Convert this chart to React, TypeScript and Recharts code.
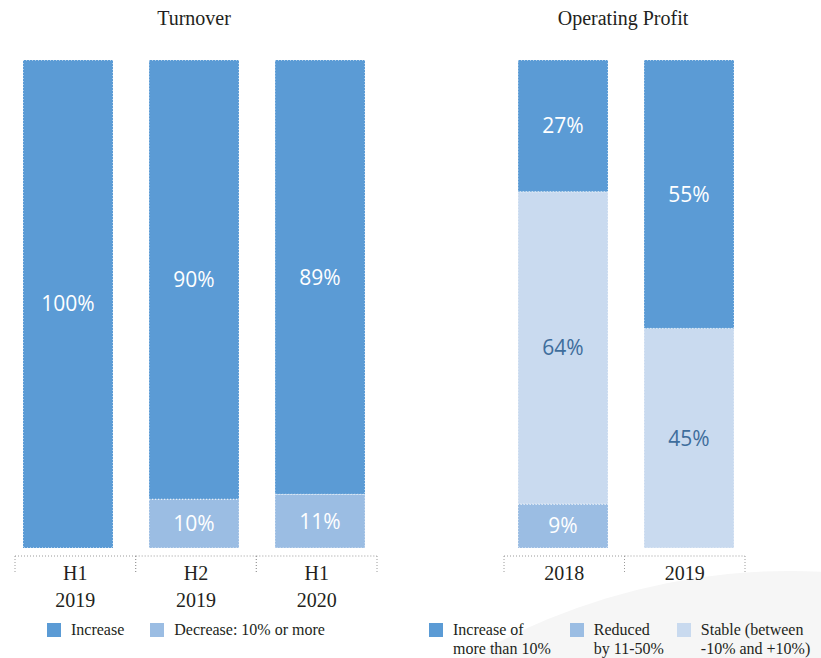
import React from 'react';
import { BarChart, Bar, XAxis, YAxis, LabelList } from 'recharts';

// categories and values
const turnoverCats = ['H1 2019', 'H2 2019', 'H1 2020'];
const turnoverIncrease = [100, 90, 89];
const turnoverDecrease = [0, 10, 11];

const profitCats = ['2018', '2019'];
const profitReduced = [9, 0];
const profitStable = [64, 45];
const profitIncrease = [27, 55];

const DARK = '#5b9bd5';
const MID = '#9bbde3';
const LIGHT = '#c9daef';
const INK = '#231f20';
const serif = '"Liberation Serif", "Times New Roman", serif';
const sans = '"Open Sans", "Noto Sans", sans-serif';

const turnoverSeries = [
  { key: 'decrease', name: 'Decrease: 10% or more', color: MID, label: '#ffffff' },
  { key: 'increase', name: 'Increase', color: DARK, label: '#ffffff' },
];
const profitSeries = [
  { key: 'reduced', name: 'Reduced\nby 11-50%', color: MID, label: '#ffffff' },
  { key: 'stable', name: 'Stable (between\n-10% and +10%)', color: LIGHT, label: '#3e6d9c' },
  { key: 'increase', name: 'Increase of\nmore than 10%', color: DARK, label: '#ffffff' },
];

const turnoverData = turnoverCats.map((cat, i) => ({
  cat,
  increase: turnoverIncrease[i],
  decrease: turnoverDecrease[i],
}));
const profitData = profitCats.map((cat, i) => ({
  cat,
  reduced: profitReduced[i],
  stable: profitStable[i],
  increase: profitIncrease[i],
}));

const H = 658;
const margin = (left: number, right: number) => ({ top: 60, right, left, bottom: 0 });

const AxisTick = (props: any) => {
  const { x, y, payload, band } = props;
  const lines = String(payload.value).split(' ');
  const dot = { stroke: '#9a9a9a', strokeWidth: 1, strokeDasharray: '1 2' };
  return (
    <g>
      <line x1={x - band / 2} x2={x + band / 2} y1={y + 8} y2={y + 8} {...dot} />
      <line x1={x - band / 2} x2={x - band / 2} y1={y + 8} y2={y + 24} {...dot} />
      <line x1={x + band / 2} x2={x + band / 2} y1={y + 8} y2={y + 24} {...dot} />
      <text textAnchor='middle' fontFamily={serif} fontSize={20} fill={INK}>
        {lines.map((l, i) => (
          <tspan key={i} x={x} y={y + 32 + i * 27}>
            {l}
          </tspan>
        ))}
      </text>
    </g>
  );
};

const pct = (v: any) => (v ? `${v}%` : '');

const StackChart = ({ data, series, width, left, right, padL, padR }: any) => {
  const band = (width - left - right - padL - padR) / data.length;
  return (
    <BarChart width={width} height={H} data={data} margin={margin(left, right)}>
      <XAxis xAxisId='bars' dataKey='cat' hide />
      <XAxis
        xAxisId='axis'
        dataKey='cat'
        height={110}
        padding={{ left: padL, right: padR }}
        axisLine={false}
        tickLine={false}
        tickSize={0}
        tickMargin={0}
        interval={0}
        tick={(p: any) => <AxisTick {...p} band={band} />}
      />
      <YAxis hide domain={[0, 100]} />
      {series.map((s: any) => (
        <Bar
          key={s.key}
          xAxisId='bars'
          dataKey={s.key}
          name={s.name}
          stackId='a'
          fill={s.color}
          barSize={90}
          stroke='#ffffff'
          strokeWidth={1}
          strokeDasharray='1 2'
          isAnimationActive={false}
        >
          <LabelList
            dataKey={s.key}
            position='center'
            formatter={pct}
            fill={s.label}
            stroke='none'
            fontSize={21}
            fontFamily={sans}
          />
        </Bar>
      ))}
    </BarChart>
  );
};

const Legend = ({ items, left, gaps }: any) => (
  <div
    style={{
      position: 'absolute',
      left,
      top: 620,
      display: 'flex',
      fontFamily: serif,
      fontSize: 16,
      lineHeight: '19px',
      color: INK,
    }}
  >
    {items.map((s: any, i: number) => (
      <div key={s.key} style={{ display: 'flex', marginRight: gaps[i] || 0 }}>
        <div style={{ width: 14, height: 14, marginTop: 3, marginRight: 10, background: s.color }} />
        <div style={{ whiteSpace: 'pre-line' }}>{s.name}</div>
      </div>
    ))}
  </div>
);

const title = (text: string, cx: number) => (
  <div
    style={{
      position: 'absolute',
      left: cx - 150,
      width: 300,
      top: 7,
      textAlign: 'center',
      fontFamily: serif,
      fontSize: 20,
      color: INK,
    }}
  >
    {text}
  </div>
);

export default function App() {
  return (
    <div style={{ position: 'absolute', left: 0, top: 0, width: 821, height: H, overflow: 'hidden', background: '#fff' }}>
      <div
        style={{
          position: 'absolute',
          left: 158,
          top: 571,
          width: 1264,
          height: 1264,
          borderRadius: '50%',
          background: '#f6f6f6',
        }}
      />
      {title('Turnover', 194)}
      {title('Operating Profit', 623)}
      <div style={{ position: 'absolute', left: 0, top: 0 }}>
        <StackChart data={turnoverData} series={turnoverSeries} width={400} left={5} right={17} padL={10} padR={6} />
      </div>
      <div style={{ position: 'absolute', left: 400, top: 0 }}>
        <StackChart data={profitData} series={profitSeries} width={421} left={100} right={69} padL={4} padR={7} />
      </div>
      <Legend items={[turnoverSeries[1], turnoverSeries[0]]} left={47} gaps={[26]} />
      <Legend items={[profitSeries[2], profitSeries[0], profitSeries[1]]} left={429} gaps={[19, 13]} />
    </div>
  );
}
